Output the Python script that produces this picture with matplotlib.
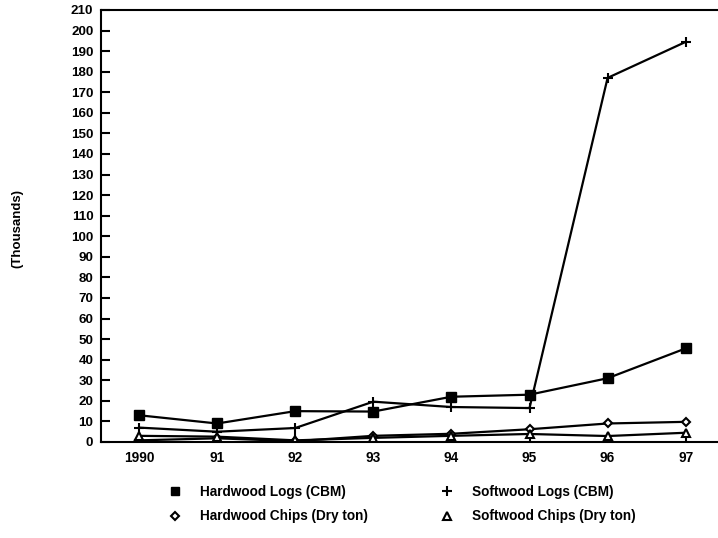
import matplotlib
matplotlib.use("Agg")
import matplotlib.pyplot as plt
from matplotlib.lines import Line2D

plt.rcParams['font.family'] = ['Liberation Sans', 'DejaVu Sans']
plt.rcParams['font.weight'] = 'bold'

years = [1990, 1991, 1992, 1993, 1994, 1995, 1996, 1997]
year_labels = ["1990", "91", "92", "93", "94", "95", "96", "97"]
hardwood_logs = [13.0, 9.0, 15.0, 14.8, 22.0, 23.0, 31.0, 45.5]
softwood_logs = [7.0, 5.0, 6.8, 19.6, 17.0, 16.5, 177.0, 194.5]
hardwood_chips = [0.8, 1.8, 0.4, 3.0, 4.0, 6.2, 9.0, 9.8]
softwood_chips = [3.0, 2.6, 0.8, 2.0, 3.0, 3.9, 2.9, 4.5]
y_ticks = list(range(0, 211, 10))

fig = plt.figure(figsize=(7.18, 5.38), dpi=100)
W, H = 718, 538
left, right, top, bottom = 101, 718, 10, 442
ax = fig.add_axes([left / W, 1 - bottom / H, (right - left) / W, (bottom - top) / H])

lw = 1.6
ax.plot(years, hardwood_logs, color='black', lw=lw, marker='s', ms=6.5, mfc='black', mec='black')
ax.plot(years, softwood_logs, color='black', lw=lw, marker='+', ms=7.5, mew=1.5)
ax.plot(years, hardwood_chips, color='black', lw=lw, marker='D', ms=4.5, mfc='white', mec='black', mew=1.5)
ax.plot(years, softwood_chips, color='black', lw=lw, marker='^', ms=5.5, mfc='white', mec='black', mew=1.5)

ax.set_xlim(1990 - 38 / 78.1, 1990 + (718 - 139) / 78.1)
ax.set_ylim(0, 210)
ax.set_yticks(y_ticks)
ax.set_yticklabels([str(t) for t in y_ticks], fontsize=9.6, fontweight='bold')
ax.set_xticks(years)
ax.set_xticklabels(year_labels, fontsize=9.8, fontweight='bold')
ax.tick_params(axis='both', direction='in', length=6.5, width=1.5)
ax.tick_params(axis='y', pad=5.5)
ax.tick_params(axis='x', pad=6.5)
ax.spines['right'].set_visible(False)
for s in ['left', 'bottom', 'top']:
    ax.spines[s].set_linewidth(1.5)

fig.text(17 / W, 1 - 229 / H, "(Thousands)", rotation=90, ha='center', va='center',
         fontsize=9.5, fontweight='bold')

handles = [
    Line2D([], [], ls='none', marker='s', ms=6, mfc='black', mec='black'),
    Line2D([], [], ls='none', marker='D', ms=4.5, mfc='white', mec='black', mew=1.5),
    Line2D([], [], ls='none', marker='+', ms=7, mec='black', mew=1.5),
    Line2D([], [], ls='none', marker='^', ms=5.5, mfc='white', mec='black', mew=1.5),
]
labels = ["Hardwood Logs (CBM)", "Hardwood Chips (Dry ton)",
          "Softwood Logs (CBM)", "Softwood Chips (Dry ton)"]
fig.legend(handles, labels, ncol=2, loc='upper left',
           bbox_to_anchor=(161.4 / W, 1 - 485 / H),
           frameon=False, prop={'size': 9.8, 'weight': 'bold'}, borderpad=0,
           borderaxespad=0, columnspacing=4.8, handlelength=2.0,
           handletextpad=0.84, labelspacing=0.76)

fig.savefig("out.png", dpi=100)
